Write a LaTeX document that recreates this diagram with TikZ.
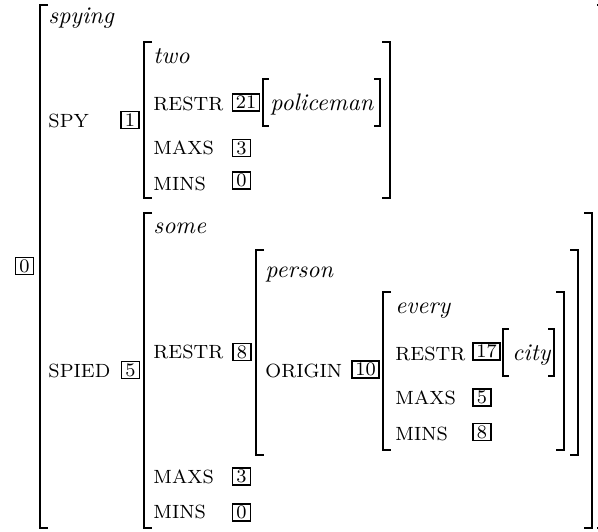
\documentclass[tikz,border=0pt]{standalone}
\usepackage{tikz}
\usetikzlibrary{calc}
\tikzstyle{feat}=[inner sep=0pt, anchor=base west, font=\footnotesize]
\tikzstyle{val}=[inner sep=0pt, anchor=base west, font=\itshape]
\tikzstyle{tag}=[rectangle, draw=black, line width=0.7pt, inner xsep=1.4pt, inner ysep=1pt, text height=5.1pt, text depth=0pt, minimum width=7.4pt, font=\footnotesize, anchor=center]
\tikzstyle{brk}=[line width=0.5pt]
% left x, right x, top y, bottom y, serif length
\newcommand{\avmbrackets}[5]
{
  \draw[brk] (#1+#5,#3) -- (#1,#3) -- (#1,#4) -- (#1+#5,#4);
  \draw[brk] (#2-#5,#3) -- (#2,#3) -- (#2,#4) -- (#2-#5,#4);
}

\begin{document}
\begin{tikzpicture}[x=0.418pt, y=-0.418pt]
	\useasboundingbox (0,0) rectangle (598,531);

	% outer matrix
	\node[tag](t0) at (24.5,266){0};
	\avmbrackets{40}{605}{5}{528}{8}
	\node[val](spying) at (48,23){spying};
	\node[feat](spy) at (48,127.5){SPY};
	\node[tag](t1) at (130,120){1};
	\node[feat](spied) at (48,377){SPIED};
	\node[tag](t5) at (130.5,370){5};

	% value of SPY
	\avmbrackets{144}{390}{42}{198}{8}
	\node[val](two) at (153,63){two};
	\node[feat](restr1) at (153,110){RESTR};
	\node[tag](t21) at (246,102.5){21};
	\avmbrackets{263}{380}{79}{126}{6}
	\node[val](policeman) at (270,110){policeman};
	\node[feat](maxs1) at (153,154){MAXS};
	\node[tag](t3a) at (241.5,148){3};
	\node[feat](mins1) at (153,190){MINS};
	\node[tag](t0a) at (241.5,180.5){0};

	% value of SPIED
	\avmbrackets{144}{592}{213}{528}{8}
	\node[val](some) at (153,233){some};
	\node[feat](restr2) at (153,358){RESTR};
	\node[tag](t8) at (242,352){8};
	\node[feat](maxs2) at (153,483){MAXS};
	\node[tag](t3b) at (241.5,476.5){3};
	\node[feat](mins2) at (153,518){MINS};
	\node[tag](t0b) at (241.5,512.5){0};

	% value of RESTR
	\avmbrackets{256}{578}{250}{455}{8}
	\node[val](person) at (265,277){person};
	\node[feat](origin) at (265,377){ORIGIN};
	\node[tag](t10) at (365.5,369.5){10};

	% value of ORIGIN
	\avmbrackets{383}{564}{292}{450}{8}
	\node[val](every) at (395,313){every};
	\node[feat](restr3) at (395,360){RESTR};
	\node[tag](t17) at (486.5,351.5){17};
	\avmbrackets{503}{554}{329}{376}{6}
	\node[val](city) at (512,360){city};
	\node[feat](maxs3) at (395,404){MAXS};
	\node[tag](t5b) at (482,397.5){5};
	\node[feat](mins3) at (395,440){MINS};
	\node[tag](t8b) at (482,432){8};

\end{tikzpicture}
\end{document}
